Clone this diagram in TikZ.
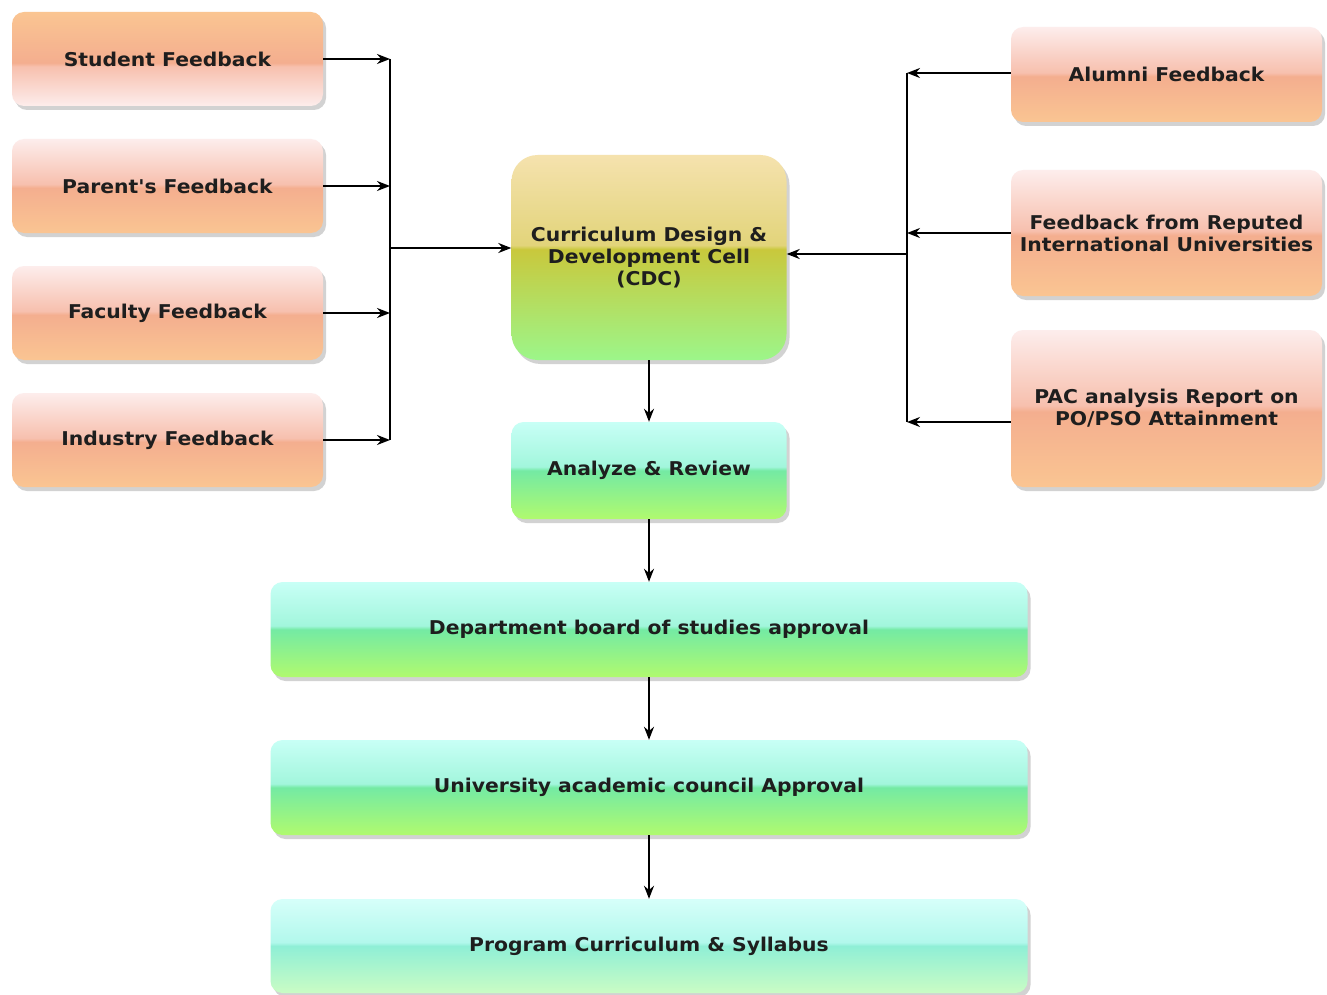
\documentclass[tikz,border=0pt]{standalone}
\usepackage{fontspec}
\setmainfont{DejaVu Sans}
\newfontfamily\boxfont{DejaVu Sans}[FakeStretch=1.07]
\usetikzlibrary{arrows.meta,shadows}
\definecolor{orTop}{HTML}{FDEDEC}
\definecolor{orUp}{HTML}{F7C0AE}
\definecolor{orMid}{HTML}{F4AE8F}
\definecolor{orBot}{HTML}{FAC592}
\definecolor{cdTop}{HTML}{F5E2AE}
\definecolor{cdMidU}{HTML}{E2D47A}
\definecolor{cdMid}{HTML}{C9C83C}
\definecolor{cdBot}{HTML}{9CF68A}
\definecolor{gnTop}{HTML}{C8FFF6}
\definecolor{gnUp}{HTML}{A2F6DC}
\definecolor{gnMid}{HTML}{74EAA4}
\definecolor{gnBot}{HTML}{B0FA6E}
\definecolor{pgTop}{HTML}{D6FFFA}
\definecolor{pgUp}{HTML}{B2F8EC}
\definecolor{pgMid}{HTML}{8FEFD6}
\definecolor{pgBot}{HTML}{CAFCC4}
\definecolor{txt}{HTML}{1E1E1E}
\pgfdeclareverticalshading{orgloss}{100bp}{color(0bp)=(orBot); color(25bp)=(orBot); color(49bp)=(orMid); color(51bp)=(orUp); color(75bp)=(orTop); color(100bp)=(orTop)}
\pgfdeclareverticalshading{orglossflip}{100bp}{color(0bp)=(orTop); color(25bp)=(orTop); color(46bp)=(orUp); color(48bp)=(orMid); color(75bp)=(orBot); color(100bp)=(orBot)}
\pgfdeclareverticalshading{cdgloss}{100bp}{color(0bp)=(cdBot); color(25bp)=(cdBot); color(52bp)=(cdMid); color(53bp)=(cdMidU); color(75bp)=(cdTop); color(100bp)=(cdTop)}
\pgfdeclareverticalshading{gngloss}{100bp}{color(0bp)=(gnBot); color(25bp)=(gnBot); color(50bp)=(gnMid); color(52bp)=(gnUp); color(75bp)=(gnTop); color(100bp)=(gnTop)}
\pgfdeclareverticalshading{pggloss}{100bp}{color(0bp)=(pgBot); color(25bp)=(pgBot); color(50bp)=(pgMid); color(52bp)=(pgUp); color(75bp)=(pgTop); color(100bp)=(pgTop)}
\tikzset{
  boxbase/.style={rounded corners=12pt, inner sep=0pt, align=center, text=txt,
    font=\boxfont\fontsize{19}{22}\selectfont\bfseries,
    drop shadow={shadow xshift=3pt, shadow yshift=-4pt, opacity=0.25, fill=black!70}},
  fbbox/.style={boxbase, shading=orgloss, minimum width=311pt},
  fbflip/.style={boxbase, shading=orglossflip, minimum width=311pt},
  cdcbox/.style={boxbase, rounded corners=26pt, shading=cdgloss, minimum width=275pt, minimum height=205pt},
  anabox/.style={boxbase, shading=gngloss, minimum width=275pt, minimum height=97pt},
  widebox/.style={boxbase, shading=gngloss, minimum width=757pt, minimum height=95pt},
  progbox/.style={boxbase, shading=pggloss, minimum width=757pt, minimum height=94pt},
  arr/.style={draw=black, line width=1.9pt, -{Stealth[length=13pt,width=10pt]}},
  ln/.style={draw=black, line width=1.9pt}
}
\begin{document}
\begin{tikzpicture}[x=1pt,y=-1pt]
\fill[white] (0,0) rectangle (1327,995);
\useasboundingbox (0,0) rectangle (1327,995);
% left feedback boxes
\node[fbflip, minimum height=94pt] (stu) at (167.5,59) {Student Feedback};
\node[fbbox, minimum height=94pt] (par) at (167.5,186) {Parent's Feedback};
\node[fbbox, minimum height=94pt] (fac) at (167.5,313) {Faculty Feedback};
\node[fbbox, minimum height=94pt] (ind) at (167.5,440) {Industry Feedback};
% right feedback boxes
\node[fbbox, minimum height=95pt] (alu) at (1166.5,74.5) {Alumni Feedback};
\node[fbbox, minimum height=126pt] (rep) at (1166.5,233) {Feedback from Reputed\\International Universities};
\node[fbbox, minimum height=157pt] (pac) at (1166.5,408.5) {PAC analysis Report on\\PO/PSO Attainment};
% central column
\node[cdcbox] (cdc) at (649,257.5) {Curriculum Design \&\\Development Cell\\(CDC)};
\node[anabox] (ana) at (649,470.5) {Analyze \& Review};
\node[widebox] (dep) at (649,629.5) {Department board of studies approval};
\node[widebox] (uni) at (649,787.5) {University academic council Approval};
\node[progbox] (pro) at (649,946) {Program Curriculum \& Syllabus};
% buses
\coordinate (busL) at (390,0);
\coordinate (busR) at (907,0);
% left connectors
\draw[arr] (stu.east) -- (stu.east -| busL);
\draw[arr] (par.east) -- (par.east -| busL);
\draw[arr] (fac.east) -- (fac.east -| busL);
\draw[arr] (ind.east) -- (ind.east -| busL);
\draw[ln] (stu.east -| busL) -- (ind.east -| busL);
\draw[arr] ([yshift=9.5pt]cdc.west -| busL) -- ([yshift=9.5pt]cdc.west);
% right connectors
\draw[arr] ([yshift=1.5pt]alu.west) -- ([yshift=1.5pt]alu.west -| busR);
\draw[arr] (rep.west) -- (rep.west -| busR);
\draw[arr] ([yshift=-13.5pt]pac.west) -- ([yshift=-13.5pt]pac.west -| busR);
\draw[ln] ([yshift=1.5pt]alu.west -| busR) -- ([yshift=-13.5pt]pac.west -| busR);
\draw[arr] ([yshift=3.5pt]cdc.east -| busR) -- ([yshift=3.5pt]cdc.east);
% central flow
\draw[arr] (cdc.south) -- (ana.north);
\draw[arr] (ana.south) -- (dep.north);
\draw[arr] (dep.south) -- (uni.north);
\draw[arr] (uni.south) -- (pro.north);
\end{tikzpicture}
\end{document}
